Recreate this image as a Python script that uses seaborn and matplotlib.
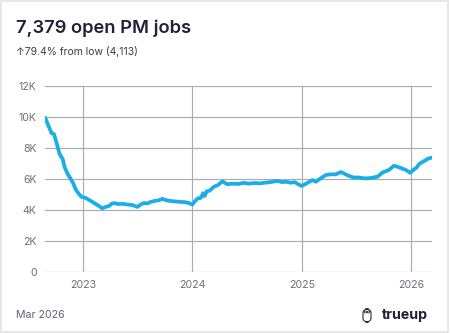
import matplotlib
matplotlib.use("Agg")
import matplotlib.pyplot as plt
from matplotlib.patches import Rectangle, FancyBboxPatch, Circle
import pandas as pd
import seaborn as sns

# Open product-manager job postings over time
dates = [
    "2022-08-27", "2022-09-03", "2022-09-17", "2022-09-25", "2022-10-04", "2022-10-14",
    "2022-10-24", "2022-10-30", "2022-11-09", "2022-11-20", "2022-11-28", "2022-12-06",
    "2022-12-15", "2022-12-26", "2023-01-09", "2023-01-25", "2023-02-15", "2023-03-06",
    "2023-03-17", "2023-03-28", "2023-04-06", "2023-04-14", "2023-04-29", "2023-05-13",
    "2023-05-29", "2023-06-14", "2023-07-01", "2023-07-12", "2023-07-23", "2023-08-04",
    "2023-08-14", "2023-08-31", "2023-09-10", "2023-09-23", "2023-10-07", "2023-10-20",
    "2023-11-06", "2023-11-23", "2023-12-10", "2023-12-20", "2024-01-01", "2024-01-09",
    "2024-01-19", "2024-01-29", "2024-02-06", "2024-02-11", "2024-02-18", "2024-02-28",
    "2024-03-13", "2024-03-26", "2024-04-11", "2024-04-27", "2024-05-15", "2024-06-04",
    "2024-06-21", "2024-07-08", "2024-07-28", "2024-08-14", "2024-08-30", "2024-09-19",
    "2024-10-12", "2024-10-26", "2024-11-12", "2024-11-25", "2024-12-09", "2024-12-19",
    "2024-12-31", "2025-01-11", "2025-01-25", "2025-02-06", "2025-02-17", "2025-03-06",
    "2025-03-23", "2025-04-08", "2025-04-25", "2025-05-12", "2025-05-23", "2025-06-08",
    "2025-06-25", "2025-07-11", "2025-07-25", "2025-08-09", "2025-08-24", "2025-09-12",
    "2025-09-29", "2025-10-10", "2025-10-21", "2025-11-06", "2025-11-23", "2025-12-06",
    "2025-12-16", "2025-12-30", "2026-01-12", "2026-01-21", "2026-01-29", "2026-02-15",
    "2026-02-27", "2026-03-11",
]
open_jobs = [
    9950, 9600, 8950, 8900, 8300, 7600,
    7300, 6800, 6350, 6000, 5750, 5350,
    5100, 4850, 4780, 4600, 4350, 4113,
    4200, 4260, 4400, 4450, 4380, 4400,
    4350, 4320, 4200, 4350, 4450, 4420,
    4520, 4600, 4620, 4720, 4620, 4580,
    4550, 4520, 4500, 4450, 4350, 4550,
    4750, 4780, 5080, 4900, 5200, 5250,
    5500, 5600, 5850, 5660, 5700, 5680,
    5750, 5700, 5740, 5720, 5760, 5800,
    5880, 5800, 5820, 5760, 5800, 5680,
    5550, 5650, 5800, 5930, 5820, 6050,
    6260, 6300, 6300, 6450, 6350, 6200,
    6090, 6100, 6050, 6040, 6080, 6150,
    6430, 6500, 6600, 6860, 6750, 6650,
    6580, 6400, 6620, 6750, 6970, 7160,
    7300, 7379,
]
y_ticks = [0, 2000, 4000, 6000, 8000, 10000, 12000]
y_tick_labels = ["0", "2K", "4K", "6K", "8K", "10K", "12K"]
year_ticks = ["2023-01-01", "2024-01-01", "2025-01-01", "2026-01-01"]
year_labels = ["2023", "2024", "2025", "2026"]

title_text = "7,379 open PM jobs"
subtitle_text = "\u219179.4% from low (4,113)"
footer_text = "Mar 2026"
brand_text = "trueup"

df = pd.DataFrame({"date": pd.to_datetime(dates), "jobs": open_jobs})

sns.set_theme(style="white")
plt.rcParams["font.family"] = ["Inter", "DejaVu Sans"]

W, H = 450, 333
fig = plt.figure(figsize=(W / 100, H / 100), dpi=100)
fig.patch.set_facecolor("white")

# card outline
fig.add_artist(Rectangle((0.5 / W, 1.5 / H), (W - 2.5) / W, (H - 2.5) / H,
                         transform=fig.transFigure, facecolor="none",
                         edgecolor="#e3e3e5", linewidth=1.2))

ax = fig.add_axes([45 / W, 1 - 272 / H, (432 - 45) / W, (272 - 86) / H])
grid_color = "#a9acb8"
sns.lineplot(data=df, x="date", y="jobs", ax=ax, color="#1aaee6",
             linewidth=2.7, solid_joinstyle="round", solid_capstyle="round", zorder=3)

ax.set_ylim(0, 12000)
ax.set_xlim(pd.Timestamp("2022-08-26"), pd.Timestamp("2026-03-13"))
ax.set_yticks(y_ticks)
ax.set_yticklabels(y_tick_labels)
ax.set_xticks(pd.to_datetime(year_ticks))
ax.set_xticklabels(year_labels)
ax.set_xlabel("")
ax.set_ylabel("")
for s in ax.spines.values():
    s.set_visible(False)
ax.grid(True, color=grid_color, linewidth=0.85)
ax.set_axisbelow(True)
ax.tick_params(axis="both", length=0, colors="#6b6f80", labelsize=7.6)
ax.tick_params(axis="y", pad=6)
ax.tick_params(axis="x", pad=6)

# header
fig.text(16.5 / W, 1 - 33 / H, title_text, fontsize=13.2, fontweight="semibold",
         color="#1e2235", ha="left", va="baseline")
fig.text(16.5 / W, 1 - 55 / H, subtitle_text, fontsize=7.5, color="#3a3e4f",
         ha="left", va="baseline", family=["Inter", "DejaVu Sans"])

# footer
fig.text(16.5 / W, 1 - 318 / H, footer_text, fontsize=7.6, color="#5f6375",
         ha="left", va="baseline")
fig.text(428 / W, 1 - 319.5 / H, brand_text, fontsize=10.2, fontweight="bold",
         color="#1e2235", ha="right", va="baseline")

# small owl mark next to the brand name
owl = FancyBboxPatch((363 / W, 1 - 322 / H), 8 / W, 13 / H,
                     boxstyle="round,pad=0,rounding_size=0.012",
                     transform=fig.transFigure, facecolor="none",
                     edgecolor="#2a2e3e", linewidth=0.8)
fig.add_artist(owl)
for ex in (365.5, 368.5):
    fig.add_artist(Circle((ex / W, 1 - 312 / H), 1.3 / W, transform=fig.transFigure,
                          facecolor="none", edgecolor="#2a2e3e", linewidth=0.6))

fig.savefig("out.png", dpi=100, facecolor="white")
